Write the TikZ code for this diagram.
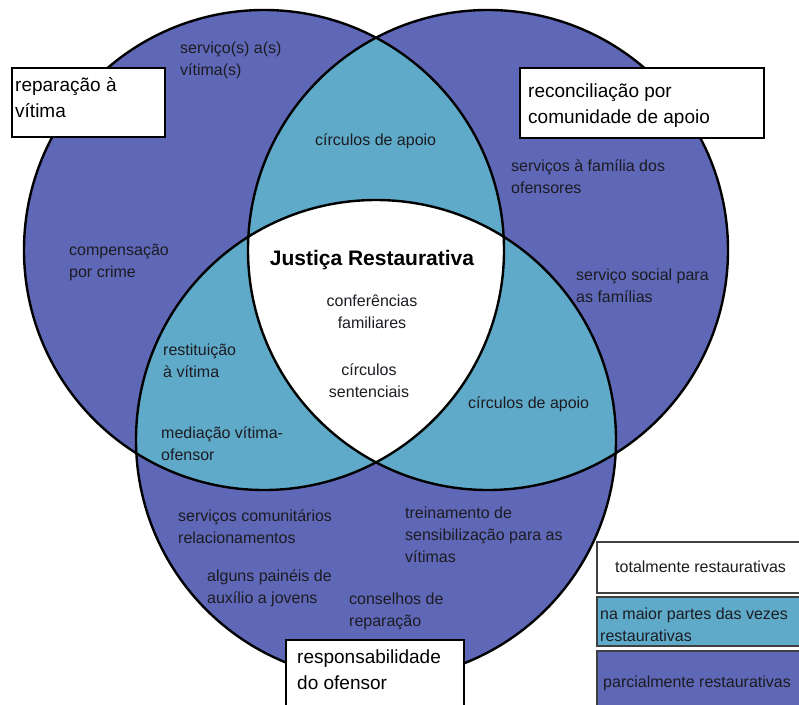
\documentclass[tikz,border=0pt]{standalone}
\usepackage{fontspec}
\setmainfont{Liberation Sans}

\definecolor{partial}{RGB}{95,103,183}
\definecolor{mostly}{RGB}{95,170,201}
\definecolor{inktext}{RGB}{28,28,34}

% multi-line labels are placed by the baseline of their last line
\tikzset{
  venn line/.style={draw=black, line width=2.4pt},
  label box/.style={draw=black, line width=2pt, fill=white},
  legend box/.style={draw=black!75, line width=1.4pt},
  item/.style={anchor=base west, align=left, inner sep=0pt, text=inktext,
               font=\fontsize{16}{22}\selectfont},
  centred item/.style={item, anchor=base, align=center},
  box text/.style={anchor=base west, align=left, inner sep=0pt, text=black,
                   font=\fontsize{19}{26.5}\selectfont},
  title text/.style={anchor=base, inner sep=0pt, text=black,
                     font=\fontsize{21}{25}\selectfont\bfseries},
}

\begin{document}
\begin{tikzpicture}[x=1pt, y=-1pt]
  \useasboundingbox (0,0) rectangle (799,704);
  \clip (0,0) rectangle (799,704);
  \fill[white] (0,0) rectangle (799,704);

  % centres of the three circles
  \coordinate (cL) at (264,250);
  \coordinate (cR) at (488,250);
  \coordinate (cB) at (376,440);
  \def\rad{240pt}

  % single circles: partially restorative
  \fill[partial] (cL) circle[radius=\rad];
  \fill[partial] (cR) circle[radius=\rad];
  \fill[partial] (cB) circle[radius=\rad];

  % pairwise overlaps: mostly restorative
  \begin{scope}
    \clip (cL) circle[radius=\rad];
    \fill[mostly] (cR) circle[radius=\rad];
    \fill[mostly] (cB) circle[radius=\rad];
  \end{scope}
  \begin{scope}
    \clip (cR) circle[radius=\rad];
    \fill[mostly] (cB) circle[radius=\rad];
  \end{scope}

  % triple overlap: fully restorative
  \begin{scope}
    \clip (cL) circle[radius=\rad];
    \clip (cR) circle[radius=\rad];
    \fill[white] (cB) circle[radius=\rad];
  \end{scope}

  % outlines
  \draw[venn line] (cL) circle[radius=\rad];
  \draw[venn line] (cR) circle[radius=\rad];
  \draw[venn line] (cB) circle[radius=\rad];

  % circle titles in boxes
  \draw[label box] (12,68) rectangle (165,137);
  \node[box text] (tVit) at (15,117.5) {reparação à\\vítima};
  \draw[label box] (520,68) rectangle (764,138);
  \node[box text] (tCom) at (528,123.5) {reconciliação por\\comunidade de apoio};
  \draw[label box] (286,640) rectangle (464,720);
  \node[box text] (tOf) at (297,689.5) {responsabilidade\\do ofensor};

  % practices in the victim circle
  \node[item] (svc) at (180,75) {serviço(s) a(s)\\vítima(s)};
  \node[item] (comp) at (69,277) {compensação\\por crime};

  % practices in the community circle
  \node[item] (fam) at (511,193) {serviços à família dos\\ofensores};
  \node[item] (soc) at (576,302) {serviço social para\\as famílias};

  % practices in the offender circle
  \node[item] (comu) at (178,543) {serviços comunitários\\relacionamentos};
  \node[item] (pain) at (207,603) {alguns painéis de\\auxílio a jovens};
  \node[item] (cons) at (349,626) {conselhos de\\reparação};
  \node[item] (trei) at (405,562) {treinamento de\\sensibilização para as\\vítimas};

  % pairwise overlaps
  \node[item] (apoio1) at (315,145) {círculos de apoio};
  \node[item] (rest) at (163,377) {restituição\\à vítima};
  \node[item] (medi) at (161,460) {mediação vítima-\\ofensor};
  \node[item] (apoio2) at (468,408) {círculos de apoio};

  % centre
  \node[title text] (jr) at (372,265) {Justiça Restaurativa};
  \node[centred item] (conf) at (372,328) {conferências\\familiares};
  \node[centred item] (sent) at (369,397) {círculos\\sentenciais};

  % legend
  \draw[legend box, fill=white] (597,542) rectangle (812,593);
  \node[item] (lg1) at (615,572) {totalmente restaurativas};
  \draw[legend box, fill=mostly] (597,597) rectangle (812,646);
  \node[item] (lg2) at (600,641) {na maior partes das vezes\\restaurativas};
  \draw[legend box, fill=partial] (597,651) rectangle (812,712);
  \node[item] (lg3) at (603,687) {parcialmente restaurativas};
\end{tikzpicture}
\end{document}
